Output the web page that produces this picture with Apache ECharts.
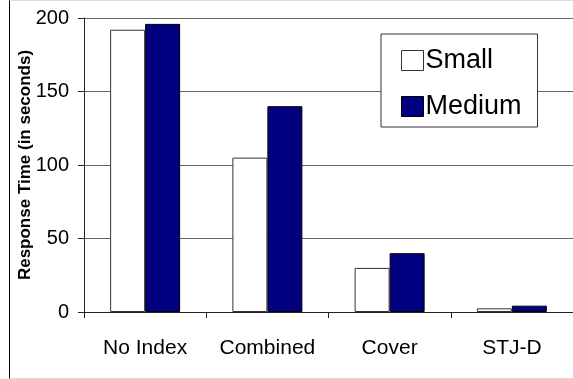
<!DOCTYPE html>
<html lang="en">
<head>
   <meta charset="utf-8">
   <title>Response Time</title>
   <script src="https://cdn.jsdelivr.net/npm/echarts@6/dist/echarts.min.js"></script>
   <style>
      html, body { margin: 0; padding: 0; background: #fff; }
      #chart-container {
         position: absolute;
         left: 0;
         top: 0;
         width: 573px;
         height: 379px;
      }
      #frame {
         position: absolute;
         left: 9px;
         top: 0;
         width: 570px;
         height: 377px;
         border-left: 1px solid #000;
         border-top: 1px solid #ddd;
         border-bottom: 1px solid #ddd;
         pointer-events: none;
      }
   </style>
</head>
<body>
   <div id="chart-container"></div>
   <div id="frame"></div>
   <script>
      var categories = ['No Index', 'Combined', 'Cover', 'STJ-D'];
      var smallValues = [192, 105, 30, 2.5];
      var mediumValues = [196, 140, 40, 4.3];
      var yTicks = { min: 0, max: 200, interval: 50 };

      var font = "'Liberation Sans', Arial, sans-serif";

      var myChart = echarts.init(document.getElementById('chart-container'), null, {
         renderer: 'canvas'
      });

      var option = {
         animation: false,
         backgroundColor: '#fff',
         textStyle: { fontFamily: font },
         grid: {
            left: 84,
            right: 0,
            top: 18,
            bottom: 67
         },
         legend: {
            orient: 'vertical',
            left: 381,
            top: 34,
            padding: [13, 16, 7, 20],
            backgroundColor: '#fff',
            borderColor: '#333',
            borderWidth: 1,
            itemWidth: 22,
            itemHeight: 20,
            itemGap: 19,
            textStyle: {
               fontFamily: font,
               fontSize: 27,
               color: '#000',
               padding: [0, 0, 0, -3]
            },
            data: [
               { name: 'Small', icon: 'rect', itemStyle: { color: '#fff', borderColor: '#333', borderWidth: 1 } },
               { name: 'Medium', icon: 'rect', itemStyle: { color: '#000080', borderColor: '#000', borderWidth: 1 } }
            ]
         },
         xAxis: {
            type: 'category',
            data: categories,
            axisLine: { lineStyle: { color: '#222', width: 1 } },
            axisTick: { show: true, interval: 0, length: 6, lineStyle: { color: '#222' } },
            axisLabel: {
               interval: 0,
               fontFamily: font,
               fontSize: 21,
               color: '#000',
               margin: 26
            },
            splitLine: { show: false }
         },
         yAxis: {
            type: 'value',
            min: yTicks.min,
            max: yTicks.max,
            interval: yTicks.interval,
            name: 'Response Time (in seconds)',
            nameLocation: 'middle',
            nameGap: 50,
            nameMoveOverlap: false,
            nameTextStyle: {
               fontFamily: font,
               fontSize: 17,
               fontWeight: 'bold',
               color: '#000'
            },
            axisLine: { show: true, lineStyle: { color: '#222', width: 1 } },
            axisTick: { show: true, length: 6, lineStyle: { color: '#222' } },
            axisLabel: {
               fontFamily: font,
               fontSize: 20,
               color: '#000',
               margin: 15
            },
            splitLine: { show: true, lineStyle: { color: '#666', width: 1 } }
         },
         series: [
            {
               name: 'Small',
               type: 'bar',
               data: smallValues,
               barWidth: 35,
               barGap: '0%',
               itemStyle: { color: '#fff', borderColor: '#333', borderWidth: 1 }
            },
            {
               name: 'Medium',
               type: 'bar',
               data: mediumValues,
               barWidth: 35,
               barGap: '0%',
               itemStyle: { color: '#000080', borderColor: '#000', borderWidth: 1 }
            }
         ]
      };

      myChart.setOption(option);
   </script>
</body>
</html>
